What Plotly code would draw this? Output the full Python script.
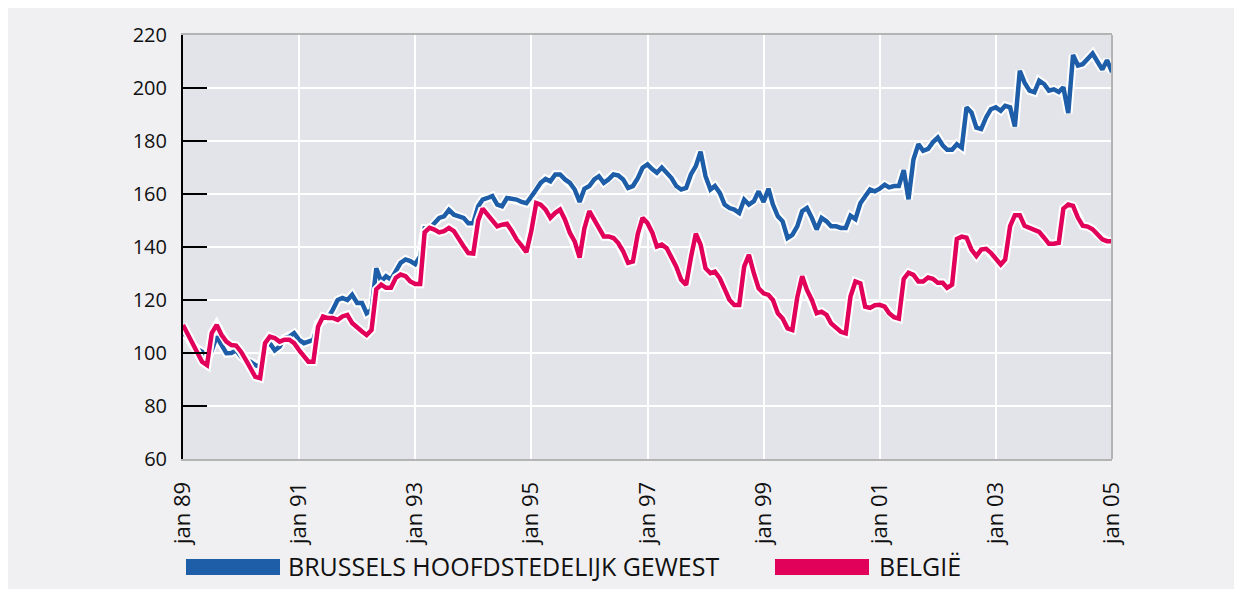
import pandas as pd
import plotly.graph_objs as go

########################################################### DATA
# monthly index, jan 89 = first value, jan 05 = last value
months = pd.date_range('1989-01-01', '2005-01-01', freq='MS')

brussels = [
    107.5, 106, 103, 101.4, 100.5, 97, 101, 106.2, 103, 99.9, 100, 101,
    98.6, 97, 96.7, 95.4, 94.8, 102.4, 103.7, 101, 102.4, 105.6, 106.2, 107.5,
    105, 103.7, 104.3, 105, 111.3, 112.5, 113.2, 116.3, 120, 120.8, 120, 122,
    118.9, 118.9, 115, 116.3, 132, 127, 129, 127.7, 130.9, 134, 135.3, 134.7,
    133.5, 136.5, 147, 146.8, 149, 151, 151.6, 154, 152.2, 151.8, 151, 149,
    149, 155.4, 157.9, 158.5, 159.2, 156, 155.4, 158.5, 158.2, 157.9, 157, 156.5,
    159, 161.4, 164.2, 165.7, 164.8, 167.4, 167.4, 165.5, 164.2, 161.7, 157, 162,
    163, 165.5, 166.7, 164.2, 165.5, 167.4, 167, 165.5, 162.3, 163, 166, 169.9,
    171.2, 169.3, 168, 170, 168, 166, 163, 161.7, 162.3, 167.4, 170.5, 176,
    166.7, 161.7, 163, 160.4, 156, 154.7, 154.1, 152.8, 157.9, 156, 157.3, 161,
    157, 162, 156, 151.6, 149.7, 143.4, 144.6, 147.8, 153.5, 154.7, 151, 146.6,
    151, 149.7, 147.8, 147.8, 147.2, 147.2, 151.8, 150.5, 156.5, 159.2, 161.7, 161,
    162, 163.5, 162.5, 163, 163, 169, 158, 173, 178.8, 176.3, 177, 179.5,
    181.3, 178.4, 176.7, 176.7, 178.8, 177.5, 192.7, 190.8, 185, 184.5, 188.9, 192,
    192.7, 191.4, 193.3, 192.7, 185.5, 206.5, 202, 199, 198.4, 202.8, 201.5, 199,
    199.5, 198.5, 200.3, 190.5, 212.5, 208.5, 209, 211, 213, 210, 207, 210.5,
    206]

belgie = [
    110.6, 106.8, 104.3, 100, 96.7, 95.4, 107.5, 110.6, 106.8, 104.3, 103, 102.8,
    100.5, 97.3, 94.2, 91, 90.5, 103.7, 106.2, 105.6, 104.3, 105, 105, 103.7,
    101.1, 98.6, 96.7, 96.7, 110, 113.8, 113.2, 113.2, 112.5, 113.8, 114.4, 111.3,
    109.4, 108.1, 106.8, 108.7, 124, 125.8, 124.6, 124.6, 128.4, 129.6, 129, 127,
    126, 126, 145.5, 147.2, 146.6, 145.5, 146, 147.2, 146, 142.8, 140.3, 137.7,
    137.5, 150, 154.5, 152.2, 149.7, 147.8, 148.4, 148.8, 146, 142.8, 140.5, 138,
    146, 156.6, 156, 154.1, 151, 152.9, 154.1, 150.3, 145.3, 142.1, 136, 147,
    153.5, 150.3, 146.6, 144, 144, 143.4, 141.5, 138.4, 134, 134.5, 145, 151,
    149, 145.3, 140.2, 140.9, 139.6, 136.4, 132.6, 127.6, 125.7, 136, 145, 140.9,
    132, 130.1, 130.7, 128.2, 123.8, 120, 118.1, 118.1, 132.6, 137, 130.1, 124.4,
    122.5, 121.9, 120, 115, 113, 109.3, 108.7, 121, 129, 123.8, 120, 115,
    115.6, 114.4, 111.2, 109.3, 108, 107.4, 121.3, 127, 126.3, 117.5, 117, 118,
    118.2, 117.5, 115, 113.5, 113, 128, 130.3, 129.5, 127, 127, 128.5, 128,
    126.5, 126.5, 124.6, 125.8, 143, 143.9, 143.5, 139, 136.6, 139, 139.3, 137.8,
    135.3, 133.4, 135.3, 147.9, 152, 152, 148, 147.3, 146.7, 145.7, 143.5, 141.2,
    141.2, 141.6, 154.5, 156, 155.5, 151, 148, 147.7, 146.7, 144.8, 142.9, 142.2,
    142.2]

tick_dates = ['1989-01-01', '1991-01-01', '1993-01-01', '1995-01-01', '1997-01-01',
              '1999-01-01', '2001-01-01', '2003-01-01', '2005-01-01']
tick_labels = ['jan 89', 'jan 91', 'jan 93', 'jan 95', 'jan 97',
               'jan 99', 'jan 01', 'jan 03', 'jan 05']
y_ticks = [60, 80, 100, 120, 140, 160, 180, 200, 220]

names = ['BRUSSELS HOOFDSTEDELIJK GEWEST', 'BELGIË']

########################################################### STYLE
blue = 'rgb(30,94,168)'
pink = 'rgb(225,0,90)'
panel = 'rgb(240,240,243)'
plotbg = 'rgb(227,228,233)'
frame = 'rgb(180,180,180)'

########################################################### TRACES
halo_b = go.Scatter(x=months, y=brussels, mode='lines', hoverinfo='skip',
                    line=dict(color='white', width=8.5))
line_b = go.Scatter(x=months, y=brussels, mode='lines', name=names[0],
                    line=dict(color=blue, width=4.5))
halo_p = go.Scatter(x=months, y=belgie, mode='lines', hoverinfo='skip',
                    line=dict(color='white', width=8.5))
line_p = go.Scatter(x=months, y=belgie, mode='lines', name=names[1],
                    line=dict(color=pink, width=4.5))

fig = go.Figure([halo_b, line_b, halo_p, line_p])

# plot box on the page: 183..1112 px wide, 35..459 px high
# (the page body adds 8px white on the left and top)
def px_x(px):
    return (px - 183) / 929.0

def px_y(py):
    return (459 - py) / 424.0

shapes = [
    # right edge of the plot box
    dict(type='line', xref='paper', yref='paper', x0=1, x1=1, y0=0, y1=1,
         line=dict(color=frame, width=2), layer='above'),
    # legend keys
    dict(type='rect', xref='paper', yref='paper', x0=px_x(186), x1=px_x(280),
         y0=px_y(575), y1=px_y(559), fillcolor=blue, line=dict(width=0)),
    dict(type='rect', xref='paper', yref='paper', x0=px_x(775), x1=px_x(869),
         y0=px_y(575), y1=px_y(559), fillcolor=pink, line=dict(width=0)),
]

annotations = [
    dict(xref='paper', yref='paper', x=px_x(286), y=px_y(566), text=names[0],
         showarrow=False, xanchor='left', yanchor='middle', font=dict(size=25)),
    dict(xref='paper', yref='paper', x=px_x(877), y=px_y(566), text=names[1],
         showarrow=False, xanchor='left', yanchor='middle', font=dict(size=25)),
]

fig.update_layout(
    width=1234, height=581,
    margin=dict(l=175, r=130, t=27, b=130),
    paper_bgcolor=panel,
    plot_bgcolor=plotbg,
    showlegend=False,
    font=dict(family='Open Sans', color='#111111'),
    shapes=shapes,
    annotations=annotations,
    xaxis=dict(type='date', range=['1989-01-01', '2005-01-01'],
               tickvals=tick_dates, ticktext=tick_labels, tickangle=-90,
               tickfont=dict(size=22),
               showgrid=True, gridcolor='white', gridwidth=2,
               showline=True, linecolor=frame, linewidth=2, mirror=True,
               ticks='outside', ticklen=12, tickcolor='rgba(0,0,0,0)',
               zeroline=False),
    yaxis=dict(range=[60, 220], tickvals=y_ticks, tickfont=dict(size=20),
               ticks='inside', ticklen=24, tickwidth=2, tickcolor='black',
               showline=True, linecolor='black', linewidth=2,
               showgrid=True, gridcolor='white', gridwidth=2,
               zeroline=False, ticklabelstandoff=10),
)

fig.write_html('out.html')
